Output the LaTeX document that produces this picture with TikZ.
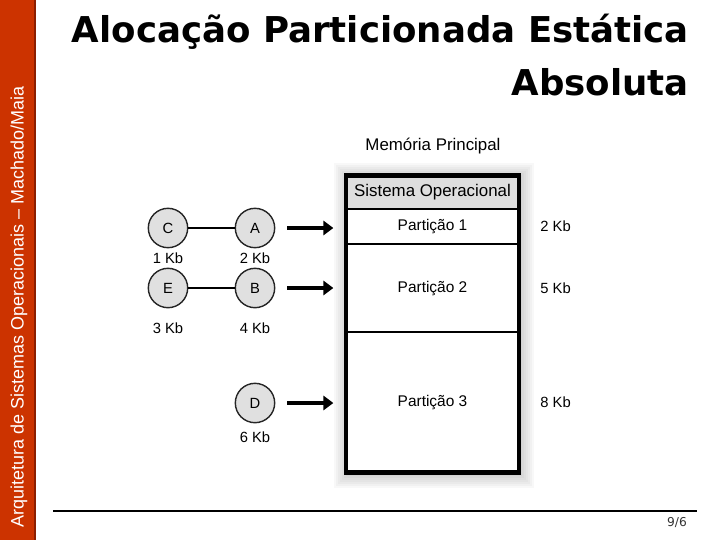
\documentclass[tikz,border=0pt]{standalone}
\usepackage{fontspec}
\setmainfont{Liberation Sans}
\newfontfamily\titlefont{DejaVu Sans}
\usetikzlibrary{arrows.meta,positioning}

\definecolor{barred}{RGB}{204,51,0}
\definecolor{bardark}{RGB}{140,30,0}
\definecolor{procgray}{RGB}{224,224,224}
\definecolor{sogray}{RGB}{222,222,222}

\begin{document}
\begin{tikzpicture}[x=0.025cm, y=-0.025cm,
  proc/.style={circle, draw=black!85, line width=1pt, fill=procgray, minimum size=28pt, inner sep=0pt, font=\fontsize{10.5}{12}\selectfont},
  kb/.style={inner sep=0pt, font=\fontsize{10.5}{12}\selectfont},
  part/.style={draw=black, line width=1.5pt, fill=white, minimum width=4.325cm, outer sep=0pt, inner sep=0pt, font=\fontsize{11}{13}\selectfont},
  link/.style={line width=1pt},
  bigarr/.style={-{Triangle[length=7pt, width=10pt]}, line width=3.5pt, shorten <=8.5pt, shorten >=9pt}
]
\useasboundingbox (0,0) rectangle (720,540);

% side bar
\fill[barred] (0,0) rectangle (36,540);
\draw[bardark, line width=1.2pt] (35.2,0) -- (35.2,540);
\node[rotate=90, text=white, font=\fontsize{12.8}{15}\selectfont] (side) at (19,307) {Arquitetura de Sistemas Operacionais -- Machado/Maia};

% title
\node[anchor=base east, inner sep=0pt, font=\titlefont\bfseries\fontsize{25.3}{30}\selectfont] (title1) at (689,42) {Alocação Particionada Estática};
\node[anchor=base east, inner sep=0pt, font=\titlefont\bfseries\fontsize{25.3}{30}\selectfont] (title2) at (689,95) {Absoluta};

% shadow of the memory
\foreach \d in {2,4,...,14}
  \fill[black, opacity=0.028] (346-\d+2,175.5-\d+1) rectangle (519+\d+1,472+\d+2);

% memory
\node[font=\fontsize{12}{14}\selectfont] (mp) at (433,146) {Memória Principal};
\node[part, fill=sogray, minimum height=0.8375cm, anchor=north, font=\fontsize{12}{14}\selectfont] (so) at (432.5,175.5) {Sistema Operacional};
\node[part, minimum height=0.875cm, below=0pt of so] (p1) {Partição 1};
\node[part, minimum height=2.2cm, below=0pt of p1] (p2) {Partição 2};
\node[part, minimum height=3.5cm, below=0pt of p2] (p3) {Partição 3};
\draw[line width=3.5pt] (so.north west) rectangle (p3.south east);

\node[kb, right=15pt of p1] (s1) {2 Kb};
\node[kb, right=15pt of p2] (s2) {5 Kb};
\node[kb, right=15pt of p3] (s3) {8 Kb};

% processes
\node[proc] (C) at (168,228) {C};
\node[proc] (A) at (255,228) {A};
\node[proc] (E) at (168,288) {E};
\node[proc] (B) at (255,288) {B};
\node[proc] (D) at (255,403) {D};

\node[kb] (kc) at (168,258) {1 Kb};
\node[kb] (ka) at (255,258) {2 Kb};
\node[kb] (ke) at (168,328) {3 Kb};
\node[kb] (kbb) at (255,328) {4 Kb};
\node[kb] (kd) at (255,437) {6 Kb};

\draw[link] (C) -- (A);
\draw[link] (E) -- (B);

\draw[bigarr] (A) -- (A -| p1.west);
\draw[bigarr] (B) -- (B -| p2.west);
\draw[bigarr] (D) -- (D -| p3.west);

% footer
\coordinate (fl) at (53,511);
\coordinate (fr) at (697,511);
\draw[line width=0.8pt] (fl) -- (fr);
\node[text=black!80, font=\titlefont\fontsize{8.7}{10}\selectfont] (page) at (677,523) {9/6};
\end{tikzpicture}
\end{document}
